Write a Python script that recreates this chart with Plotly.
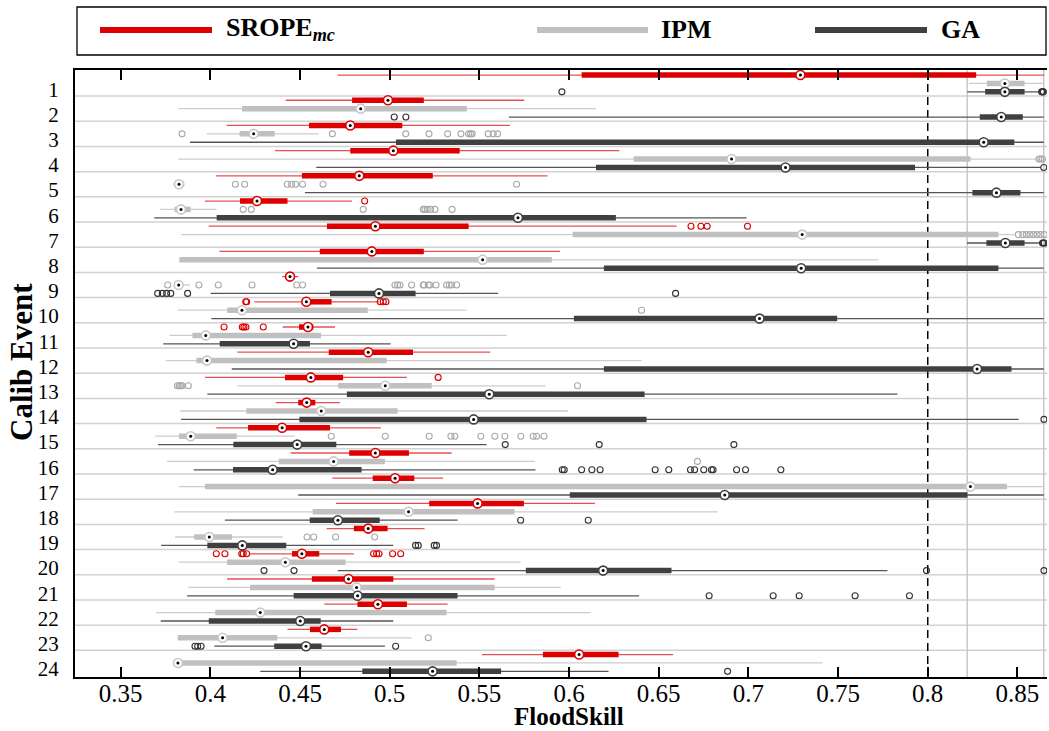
import plotly.graph_objects as go

events = list(range(1, 25))
tick_labels = ["0.35", "0.4", "0.45", "0.5", "0.55", "0.6", "0.65", "0.7", "0.75", "0.8", "0.85"]
tick_vals = [0.35, 0.40, 0.45, 0.50, 0.55, 0.60, 0.65, 0.70, 0.75, 0.80, 0.85]
threshold_line = 0.80
ref_lines = [0.822, 0.8647]

# ---------------- SROPE_mc ----------------
srope_lo  = [0.471, 0.442, 0.409, 0.436, 0.403, 0.397, 0.399, 0.405, 0.440, 0.4245, 0.4403, 0.415,
             0.397, 0.4364, 0.4033, 0.4448, 0.468, 0.470, 0.4648, 0.422, 0.4093, 0.4635, 0.443, 0.5514]
srope_q1  = [0.607, 0.479, 0.455, 0.478, 0.451, 0.4165, 0.465, 0.461, 0.443, 0.451, 0.4494, 0.466,
             0.4416, 0.449, 0.421, 0.4774, 0.4905, 0.522, 0.480, 0.4455, 0.4566, 0.482, 0.4555, 0.5854]
srope_med = [0.729, 0.499, 0.478, 0.502, 0.483, 0.426, 0.492, 0.490, 0.4444, 0.4535, 0.4544, 0.488,
             0.456, 0.4537, 0.440, 0.492, 0.503, 0.549, 0.488, 0.451, 0.477, 0.4934, 0.4635, 0.6056]
srope_q3  = [0.827, 0.519, 0.507, 0.539, 0.524, 0.443, 0.544, 0.519, 0.446, 0.4676, 0.4574, 0.513,
             0.474, 0.4585, 0.4667, 0.5107, 0.5137, 0.5748, 0.4988, 0.4607, 0.502, 0.5096, 0.4728, 0.6276]
srope_hi  = [0.865, 0.575, 0.567, 0.628, 0.588, 0.479, 0.660, 0.595, 0.449, 0.494, 0.4695, 0.556,
             0.5096, 0.4722, 0.495, 0.5345, 0.5298, 0.6144, 0.5194, 0.480, 0.5585, 0.5323, 0.482, 0.658]
srope_out = [[], [], [], [], [], [0.486], [0.668, 0.6735, 0.677, 0.6995], [], [],
             [0.4197, 0.4202, 0.4947, 0.4964, 0.4979],
             [0.4076, 0.4178, 0.4187, 0.4198, 0.4295], [], [0.527], [], [], [], [], [], [],
             [0.4033, 0.4081, 0.4175, 0.4183, 0.4202, 0.491, 0.4927, 0.494, 0.5016, 0.5061],
             [], [], [], []]

# ---------------- IPM ----------------
ipm_lo  = [0.823, 0.382, 0.398, 0.382, 0.3825, 0.372, 0.3836, 0.3827, 0.381, 0.3818, 0.3773, 0.3751,
           0.415, 0.3832, 0.3693, 0.3758, 0.3825, 0.3799, 0.3803, 0.3825, 0.3877, 0.3697, 0.3815, 0.3815]
ipm_q1  = [0.833, 0.4176, 0.4163, 0.636, 0.382, 0.380, 0.602, 0.3827, 0.3815, 0.4094, 0.390, 0.3922,
           0.4713, 0.420, 0.3825, 0.4381, 0.397, 0.457, 0.391, 0.4093, 0.4221, 0.4027, 0.3819, 0.3819]
ipm_med = [0.843, 0.4838, 0.4241, 0.6906, 0.3825, 0.3836, 0.730, 0.5518, 0.3823, 0.4176, 0.3974, 0.3981,
           0.4975, 0.4618, 0.389, 0.4687, 0.8238, 0.5105, 0.3994, 0.4418, 0.4815, 0.4278, 0.4068, 0.3819]
ipm_q3  = [0.854, 0.543, 0.4358, 0.8238, 0.383, 0.389, 0.8394, 0.5904, 0.384, 0.4877, 0.4617, 0.4983,
           0.5234, 0.5044, 0.4147, 0.4973, 0.8442, 0.5696, 0.412, 0.4754, 0.5585, 0.5317, 0.4373, 0.5373]
ipm_hi  = [0.8647, 0.615, 0.4604, 0.8606, 0.383, 0.4035, 0.8485, 0.7723, 0.3886, 0.5429, 0.5652, 0.6404,
           0.5869, 0.5995, 0.4468, 0.5809, 0.8647, 0.6828, 0.4403, 0.573, 0.5954, 0.612, 0.5122, 0.7413]
ipm_out = [[], [],
           [0.3842, 0.468, 0.5089, 0.5219, 0.5323, 0.5397, 0.544, 0.5451, 0.546, 0.5549, 0.5577, 0.5601],
           [0.862, 0.863, 0.864],
           [0.3815, 0.3822, 0.3828, 0.3835, 0.4139, 0.4191, 0.4429, 0.4453, 0.4475, 0.4514, 0.4628, 0.5707],
           [0.4183, 0.4228, 0.4852, 0.5187, 0.5196, 0.5209, 0.5228, 0.5252, 0.5348],
           [0.8505, 0.853, 0.855, 0.857, 0.859, 0.861, 0.863, 0.865],
           [],
           [0.3762, 0.3936, 0.4044, 0.4232, 0.4481, 0.4514, 0.5029, 0.5044, 0.5057, 0.5122, 0.5187,
            0.5191, 0.5215, 0.5224, 0.5258, 0.5317, 0.5332, 0.5345, 0.5373],
           [0.6404], [], [],
           [0.3816, 0.3826, 0.3834, 0.3842, 0.3877, 0.6047],
           [],
           [0.4674, 0.4975, 0.522, 0.5341, 0.5363, 0.5508, 0.5586, 0.5642, 0.5731, 0.58, 0.5819, 0.586],
           [0.6716], [], [],
           [0.4539, 0.4576, 0.4698, 0.4916],
           [], [], [], [0.5215], []]

# ---------------- GA ----------------
ga_lo  = [0.822, 0.5665, 0.3886, 0.459, 0.4527, 0.3687, 0.8219, 0.4594, 0.4002, 0.4005, 0.3737, 0.4119,
          0.3983, 0.3836, 0.3708, 0.3907, 0.449, 0.4081, 0.3725, 0.471, 0.387, 0.3723, 0.4022, 0.4278]
ga_q1  = [0.832, 0.829, 0.5035, 0.615, 0.8249, 0.4035, 0.8327, 0.6194, 0.4667, 0.6027, 0.4052, 0.6194,
          0.4761, 0.4496, 0.4128, 0.4126, 0.6004, 0.4554, 0.3983, 0.5759, 0.4464, 0.3991, 0.4356, 0.4847]
ga_med = [0.843, 0.841, 0.8312, 0.7207, 0.8383, 0.5715, 0.8433, 0.7294, 0.494, 0.7062, 0.4464, 0.8275,
          0.5555, 0.5468, 0.4484, 0.4347, 0.6868, 0.4711, 0.4178, 0.619, 0.4821, 0.4501, 0.4533, 0.5239]
ga_q3  = [0.854, 0.853, 0.8483, 0.7929, 0.8517, 0.6261, 0.854, 0.8394, 0.5144, 0.7495, 0.4555, 0.8467,
          0.6421, 0.6432, 0.4702, 0.4843, 0.8221, 0.4944, 0.4423, 0.6571, 0.5378, 0.4615, 0.462, 0.5621]
ga_hi  = [0.862, 0.8647, 0.8647, 0.863, 0.8647, 0.699, 0.862, 0.8647, 0.5605, 0.8647, 0.5005, 0.8647,
          0.7831, 0.8507, 0.554, 0.5813, 0.8647, 0.5378, 0.502, 0.7775, 0.6391, 0.502, 0.4973, 0.622]
ga_out = [[0.596, 0.8635, 0.864, 0.8645],
          [0.5025, 0.509], [], [0.8647], [], [], [0.864, 0.8645, 0.865], [],
          [0.3706, 0.3732, 0.3756, 0.3779, 0.3873, 0.6594],
          [], [], [], [], [0.8648],
          [0.5644, 0.6168, 0.6919],
          [0.5962, 0.5973, 0.607, 0.6127, 0.6173, 0.648, 0.6556, 0.6677, 0.67, 0.6751, 0.6794,
           0.6803, 0.6934, 0.6984, 0.7181],
          [], [0.573, 0.6107],
          [0.5144, 0.5159, 0.5248, 0.5261],
          [0.4299, 0.4466, 0.7993, 0.8648],
          [0.6781, 0.7138, 0.7283, 0.7595, 0.7898],
          [], [0.3914, 0.3929, 0.3948, 0.5033], [0.6884]]

RED = "rgb(221,0,0)"
RED_W = "rgb(232,80,80)"
IPM_C = "rgb(192,192,192)"
IPM_W = "rgb(205,205,205)"
IPM_O = "rgb(170,170,170)"
GA_C = "rgb(64,64,64)"
GA_W = "rgb(85,85,85)"
GA_O = "rgb(50,50,50)"

series = [
    dict(lo=srope_lo, q1=srope_q1, med=srope_med, q3=srope_q3, hi=srope_hi, out=srope_out,
         off=0, box=RED, wh=RED_W, oc=RED, mc=RED),
    dict(lo=ipm_lo, q1=ipm_q1, med=ipm_med, q3=ipm_q3, hi=ipm_hi, out=ipm_out,
         off=1, box=IPM_C, wh=IPM_W, oc=IPM_O, mc="rgb(200,200,200)"),
    dict(lo=ga_lo, q1=ga_q1, med=ga_med, q3=ga_q3, hi=ga_hi, out=ga_out,
         off=2, box=GA_C, wh=GA_W, oc=GA_O, mc=GA_C),
]

fig = go.Figure()

def ypos(i, off):
    return 3 * i + off

# whiskers
for s in series:
    xs, ys = [], []
    for i in range(len(events)):
        y = ypos(i, s["off"])
        xs += [s["lo"][i], s["hi"][i], None]
        ys += [y, y, None]
    fig.add_trace(go.Scatter(x=xs, y=ys, mode="lines", line=dict(color=s["wh"], width=1.3),
                             hoverinfo="skip", showlegend=False))
# boxes
for s in series:
    xs, ys = [], []
    for i in range(len(events)):
        y = ypos(i, s["off"])
        xs += [s["q1"][i], s["q3"][i], None]
        ys += [y, y, None]
    fig.add_trace(go.Scatter(x=xs, y=ys, mode="lines", line=dict(color=s["box"], width=5.5),
                             hoverinfo="skip", showlegend=False))
# outliers
for s in series:
    xs, ys = [], []
    for i in range(len(events)):
        y = ypos(i, s["off"])
        for v in s["out"][i]:
            xs.append(v)
            ys.append(y)
    fig.add_trace(go.Scatter(x=xs, y=ys, mode="markers",
                             marker=dict(symbol="circle-open", size=6, color=s["oc"], line=dict(width=1.1)),
                             hoverinfo="skip", showlegend=False))
# medians
for s in series:
    ys = [ypos(i, s["off"]) for i in range(len(events))]
    fig.add_trace(go.Scatter(x=s["med"], y=ys, mode="markers",
                             marker=dict(symbol="circle", size=9, color="white",
                                         line=dict(color=s["mc"], width=1.6)),
                             hoverinfo="skip", showlegend=False))
    fig.add_trace(go.Scatter(x=s["med"], y=ys, mode="markers",
                             marker=dict(symbol="circle", size=3, color="black"),
                             hoverinfo="skip", showlegend=False))

shapes = []
# separators between events
for i in range(1, len(events)):
    shapes.append(dict(type="line", xref="paper", x0=0, x1=1, yref="y",
                       y0=3 * i - 0.5, y1=3 * i - 0.5,
                       line=dict(color="rgb(210,210,210)", width=1.5), layer="below"))
# reference vertical lines
for v in ref_lines:
    shapes.append(dict(type="line", xref="x", x0=v, x1=v, yref="paper", y0=0, y1=1,
                       line=dict(color="rgb(200,200,200)", width=1.5), layer="below"))
shapes.append(dict(type="line", xref="x", x0=threshold_line, x1=threshold_line, yref="paper", y0=0, y1=1,
                   line=dict(color="black", width=1.5, dash="8px,5px"), layer="below"))

W, H = 1049, 731
L, R, T, B = 75, 2, 70, 54
pw, ph = W - L - R, H - T - B
def px(xp):
    return (xp - L) / pw
def py(yp):
    return (H - B - yp) / ph

shapes.append(dict(type="rect", xref="paper", yref="paper", x0=px(77), x1=px(1046), y0=py(55), y1=py(7),
                   line=dict(color="black", width=1.3), fillcolor="white"))
leg = [("SROPE<sub><i>mc</i></sub>", RED, 100, 212, 224),
       ("IPM", IPM_C, 537, 648, 659),
       ("GA", GA_C, 815, 927, 939)]
annotations = []
for name, col, xa, xb, xt in leg:
    shapes.append(dict(type="line", xref="paper", yref="paper", x0=px(xa), x1=px(xb), y0=py(30), y1=py(30),
                       line=dict(color=col, width=6)))
    annotations.append(dict(text="<b>" + name + "</b>", xref="paper", yref="paper", x=px(xt), y=py(29),
                            xanchor="left", yanchor="middle", showarrow=False,
                            font=dict(family="Liberation Serif", size=26, color="black")))

annotations.append(dict(text="<b>FloodSkill</b>", xref="paper", yref="paper", x=px(569), y=py(716.5),
                        xanchor="center", yanchor="middle", showarrow=False,
                        font=dict(family="Liberation Serif", size=25, color="black")))
annotations.append(dict(text="<b>Calib Event</b>", xref="paper", yref="paper", x=px(21), y=py(362),
                        xanchor="center", yanchor="middle", showarrow=False, textangle=-90,
                        font=dict(family="Liberation Serif", size=31, color="black")))

fig.update_layout(
    width=W, height=H,
    margin=dict(l=L, r=R, t=T, b=B, autoexpand=False),
    paper_bgcolor="white", plot_bgcolor="white",
    shapes=shapes, annotations=annotations,
    showlegend=False,
    font=dict(family="Liberation Serif", color="black"),
)
fig.update_xaxes(range=[0.3245, 0.8665], tickvals=tick_vals, ticktext=tick_labels, automargin=False,
                 showgrid=False, zeroline=False, showline=True, linecolor="black", linewidth=2,
                 mirror="ticks", ticks="inside", ticklen=10, tickwidth=1.5, tickcolor="black",
                 tickfont=dict(family="Liberation Serif", size=25, color="black"), ticklabelstandoff=-7)
fig.update_yaxes(range=[3 * len(events) - 0.33, -0.6], automargin=False,
                 tickvals=[3 * i + 1.7 for i in range(len(events))], ticktext=[str(e) for e in events],
                 showgrid=False, zeroline=False, showline=True, linecolor="black", linewidth=2,
                 mirror=False, ticks="", ticklabelstandoff=10,
                 tickfont=dict(family="Liberation Serif", size=21, color="black"))

fig.write_html("out.html", config={"displayModeBar": False},
               post_script="document.body.style.margin='0';document.body.style.overflow='hidden';")
